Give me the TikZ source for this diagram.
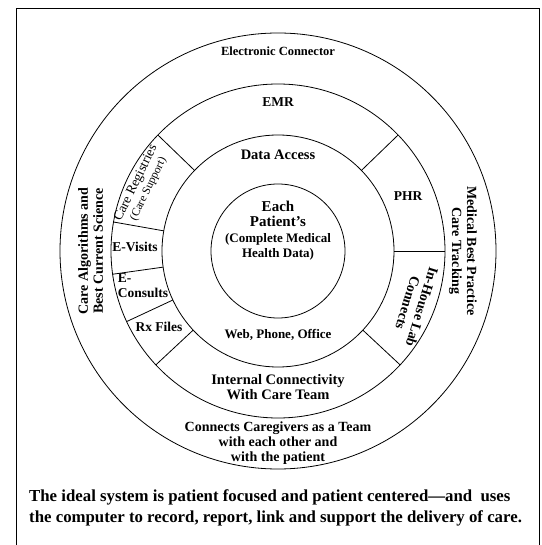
\documentclass[tikz,border=0pt]{standalone}
\usepackage{fontspec}
\setmainfont{Liberation Serif}
\usetikzlibrary{positioning}

\begin{document}
\begin{tikzpicture}[
  x=1pt, y=1pt,
  ring/.style    = {circle, draw, line width=0.8pt, inner sep=0pt,
                    outer sep=0pt, minimum size=#1},
  lbl/.style     = {align=center, inner sep=0pt,
                    font=\fontsize{#1}{15}\selectfont\bfseries},
  lbl/.default   = 13.5,
  thinlbl/.style = {align=center, inner sep=0pt,
                    font=\fontsize{13.5}{13.5}\selectfont},
  divider/.style = {line width=0.8pt},
]
\useasboundingbox (-278,-294) rectangle (263,251);
% Frame
\draw[line width=0.9pt] (-262,-294) -- (-262,243) -- (261,243) -- (261,-294);
% Rings
\node[ring=436pt] (conn)    at (0,0) {};
\node[ring=334pt] (emr)     at (0,0) {};
\node[ring=232pt] (access)  at (0,0) {};
\node[ring=134pt] (patient) at (0,0) {};
% Dividers in the EMR ring
\foreach \a in {44,0,-43,223,205,188,170,136}
  \draw[divider] (access.\a) -- (emr.\a);
% Ring labels
\node[lbl=12.5] (elec)    at (0,200)  {Electronic Connector};
\node[lbl]      (emrlbl)  at (0,149)  {EMR};
\node[lbl=14.5] (datalbl) at (0,96)   {Data Access};
\node[lbl=13]   (weblbl)  at (0,-84)  {Web, Phone, Office};
\node[lbl=14.5] (intlbl)  at (0,-136) {Internal Connectivity\\With Care Team};
\node[lbl=14]   (teamlbl) at (0,-192) {Connects Caregivers as a Team\\with each other and\\with the patient};
% Centre
\node[lbl=15] (each) at (0,37) {Each\\Patient’s};
\node[lbl=13, below=6pt of each] (health) {(Complete Medical\\Health Data)};
% Side labels
\node[lbl=14, rotate=90]  (algo) at (-187.5,0) {Care Algorithms and\\Best Current Science};
\node[lbl=14, rotate=-90] (best) at (185,0)    {Medical Best Practice\\Care Tracking};
% Segments
\node[lbl]      (phr) at (130,55)  {PHR};
\node[lbl=14, rotate=-107] (lab) at (137,-54) {In-House Lab\\Connects};
\node[thinlbl, rotate=64] (reg) at (-136,65) {Care Registries\\{\fontsize{11.5}{13}\selectfont(Care Support)}};
\node[lbl]      (visits)   at (-143,4)   {E-Visits};
\node[lbl, align=left] (consults) at (-135,-34.5) {E-\\Consults};
\node[lbl]      (rx)       at (-119,-76) {Rx Files};
% Caption
\node[align=left, anchor=west, inner sep=0pt,
      font=\fontsize{16.8}{20.5}\selectfont\bfseries] (caption) at (-249,-257)
  {The ideal system is patient focused and patient centered—and\ \ uses\\
   the computer to record, report, link and support the delivery of care.};
\end{tikzpicture}
\end{document}
